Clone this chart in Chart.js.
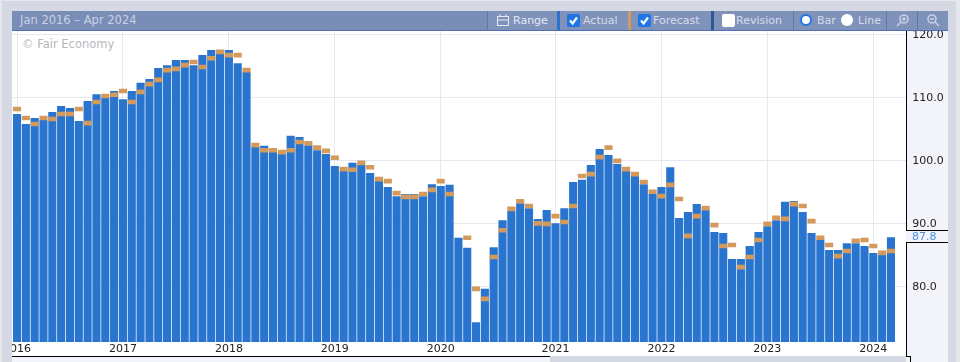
<!DOCTYPE html>
<html><head><meta charset="utf-8">
<script src="https://cdn.jsdelivr.net/npm/chart.js@4"></script>
<style>
html,body{margin:0;padding:0;width:960px;height:362px;overflow:hidden;background:#d5d9e3;font-family:"DejaVu Sans",sans-serif}
#panel{position:absolute;left:12px;top:31px;width:936px;height:331px;background:#f3f4f9}
#plot{position:absolute;left:12px;top:31px;width:894px;height:325px;background:#fff}
#cv{position:absolute;left:12px;top:31px}
#bar{position:absolute;left:12px;top:11px;width:936px;height:19px;background:#7a8db6;border-bottom:1px solid #4f6db0;color:#d6dcea;font-size:11px;line-height:19px}
#bar span{position:absolute;top:0;white-space:nowrap}
#bar svg{position:absolute;top:3px}
.sep{position:absolute;top:0;height:19px;width:1px;background:#5f77a8}
.tb{position:absolute;top:0;height:19px;background:#7f92ba}
.cb{position:absolute;top:3px;width:13px;height:13px;border-radius:2px;background:#1f74e6}
.cb svg{position:absolute!important;left:0;top:0!important}
.cb.off{background:#fff}
.rd{position:absolute;top:3px;width:12px;height:12px;border-radius:50%;background:#fff;box-sizing:border-box}
.rd.on{border:2px solid #1f74e6}
.stripe{position:absolute;top:0;height:19px;width:3px}
.abs{position:absolute}
</style></head><body>
<div class="abs" style="left:0;top:0;width:960px;height:1px;background:#e6e8ee"></div>
<div class="abs" style="left:0;top:0;width:2px;height:362px;background:#e6e8ee"></div>
<div class="abs" style="left:956px;top:0;width:4px;height:362px;background:#e6e8ee"></div>
<div id="panel"></div><div id="plot"></div>
<div class="abs" style="left:12px;top:356px;width:538px;height:1px;background:#000"></div>
<div class="abs" style="left:550px;top:356px;width:356px;height:6px;background:#d5d9e3"></div>
<div class="abs" style="left:906px;top:356px;width:5px;height:1px;background:#000"></div>
<div class="abs" style="left:910px;top:356px;width:1px;height:6px;background:#000"></div>
<div id="bar">
<span style="left:8px;font-size:11.5px;color:#c9d2e4">Jan 2016 – Apr 2024</span>
<div class="tb" style="left:476px;width:460px"></div>
<div class="sep" style="left:475px"></div>
<svg style="left:485px" width="12" height="12" viewBox="0 0 12 12" fill="none" stroke="#e4e8f1"><rect x="0.5" y="2.5" width="11" height="9"/><path d="M0.5 6h11M3 0v3M9 0v3"/></svg>
<span style="left:501px;color:#e4e8f1">Range</span>
<div class="stripe" style="left:545px;background:#2a73cc"></div>
<div class="cb" style="left:555px"><svg width="13" height="13" viewBox="0 0 13 13" fill="none" stroke="#fff" stroke-width="2.2"><path d="M3 6.5l2.6 3L10 3.5"/></svg></div><span style="left:571px">Actual</span>
<div class="stripe" style="left:616px;background:#d49a5c"></div>
<div class="cb" style="left:626px"><svg width="13" height="13" viewBox="0 0 13 13" fill="none" stroke="#fff" stroke-width="2.2"><path d="M3 6.5l2.6 3L10 3.5"/></svg></div><span style="left:641px">Forecast</span>
<div class="stripe" style="left:699px;background:#2f5597"></div>
<div class="cb off" style="left:710px"></div><span style="left:724px">Revision</span>
<div class="sep" style="left:781px"></div>
<div class="rd on" style="left:788px"></div><span style="left:805px">Bar</span>
<div class="rd" style="left:829px"></div><span style="left:846px">Line</span>
<div class="sep" style="left:874px"></div>
<svg style="left:884px" width="14" height="13" viewBox="0 0 14 13" fill="none" stroke="#c5cfe2" stroke-width="1.6"><circle cx="8" cy="5" r="4"/><path d="M5 8L1 12M6 5h4M8 3v4"/></svg>
<div class="sep" style="left:905px"></div>
<svg style="left:914px" width="14" height="13" viewBox="0 0 14 13" fill="none" stroke="#c5cfe2" stroke-width="1.6"><circle cx="6" cy="5" r="4"/><path d="M9 8L13 12M4 5h4"/></svg>
</div>
<div style="position:absolute;left:22px;top:37px;font-size:11.5px;color:#b7b7bb">© Fair Economy</div>
<canvas id="cv" width="936" height="325"></canvas>
<script>
const yearTicks = {0:"2016",12:"2017",24:"2018",36:"2019",48:"2020",61:"2021",73:"2022",85:"2023",97:"2024"};
const categories = Array.from({length:101},(_,i)=>yearTicks[i]||"");
const actual = [107.35,105.76,106.71,106.4,107.67,108.62,108.3,106.24,109.4,110.5,110,111,109.7,111,112.3,112.9,114.65,115.1,115.9,115.9,115.1,116.7,117.5,116.9,117.5,115.4,114,
102.1,102.3,101.3,101,103.9,103.7,102.4,101.6,101,99.1,98.3,99.6,99.25,98,96.7,95.75,94.3,94.65,94.65,94.3,96.2,95.9,96.1,87.7,86.1,74.3,79.6,86.2,90.5,91.95,93.2,92.4,90.7,92.1,90,92.4,96.55,96.9,99.25,101.8,100.85,99.4,98.3,97.5,96.2,94.65,95.75,98.9,90.85,91.8,93.05,92.1,88.6,88.45,84.35,84.35,86.4,88.6,89.55,90.5,93.4,93.55,91.8,88.45,87.35,85.75,85.75,86.85,86.85,86.4,85.3,85,87.8,null];
const forecast = [108.14,106.71,105.76,106.71,106.55,107.35,107.35,108.14,105.9,109.25,110.2,110.4,111,109.25,110.85,112.1,112.75,114.3,114.5,115.1,115.6,114.8,116.2,117.2,116.7,116.7,114.3,
102.4,101.6,101.6,101.3,101.6,102.9,102.7,102,101.5,100.4,98.6,98.5,99.6,98.9,97,96.7,94.8,94.2,94.2,94.65,95.3,96.7,94.65,null,87.7,79.6,78,84.65,88.9,92.3,93.5,92.75,90,89.9,91.15,90.2,92.75,97.5,97.8,100.5,102,99.9,98.6,97.8,96.55,95,94.3,96.1,93.85,88,91.15,92.4,89.7,86.4,86.55,83.05,84.65,87.35,89.9,90.85,90.7,93.05,92.75,90.35,87.7,86.55,84.8,85.6,87.2,87.35,86.4,85.3,85.6,null];
const yTicks = [80,90,100,110,120];
const lastValue = 87.8;
const markerHalf = 0.37;
const forecastBars = forecast.map(v => v==null ? null : [v-markerHalf, v+markerHalf]);

const lastLabel = {
  id:'lastLabel',
  afterDraw(c){
    const ctx=c.ctx, y=c.scales.y, p=Math.round(y.getPixelForValue(lastValue)), ax=c.width-42;
    ctx.save();
    ctx.strokeStyle='#000'; ctx.lineWidth=1;
    ctx.beginPath(); ctx.moveTo(ax+0.5,0); ctx.lineTo(ax+0.5,c.height); ctx.stroke();
    ctx.fillStyle='#f3f4f9'; ctx.fillRect(ax,p-6,42,12);
    ctx.beginPath();
    ctx.moveTo(ax,p-6.5); ctx.lineTo(c.width,p-6.5);
    ctx.moveTo(ax,p+5.5); ctx.lineTo(c.width,p+5.5);
    ctx.stroke();
    ctx.fillStyle='#4a90e2'; ctx.font='11px "DejaVu Sans"'; ctx.textBaseline='middle'; ctx.textAlign='left';
    ctx.fillText(lastValue.toFixed(1),ax+6,p);
    ctx.restore();
  }
};

new Chart(document.getElementById('cv'),{
  type:'bar',
  data:{labels:categories,datasets:[
    {label:'Forecast',data:forecastBars,backgroundColor:'#d49a5c',grouped:false,order:0,barPercentage:0.92,categoryPercentage:1},
    {label:'Actual',data:actual,backgroundColor:'#2874ce',grouped:false,order:1,barPercentage:0.92,categoryPercentage:1}
  ]},
  options:{
    responsive:false,animation:false,
    layout:{padding:{left:0.6,right:0,top:0,bottom:0}},
    plugins:{legend:{display:false},tooltip:{enabled:false}},
    scales:{
      x:{
        grid:{offset:false,lineWidth:1,color:c=>c.tick&&c.tick.label?'#e6e7f0':'rgba(0,0,0,0)',drawTicks:false},
        border:{display:false},
        ticks:{autoSkip:false,maxRotation:0,minRotation:0,padding:1,color:'#222',font:{family:'"DejaVu Sans"',size:11}},
        afterFit(s){s.height=14;s.paddingLeft=0;s.paddingRight=0;}
      },
      y:{
        position:'right',min:71.16,max:120.52,
        afterBuildTicks(s){s.ticks=yTicks.map(v=>({value:v}));},
        grid:{lineWidth:1,color:'#e6e7f0',drawTicks:true,tickLength:2,tickColor:'#e6e7f0'},
        border:{display:false},
        ticks:{padding:6,labelOffset:1,color:'#222',font:{family:'"DejaVu Sans"',size:11},callback:v=>v.toFixed(1)},
        afterFit(s){s.width=43.8;s.paddingTop=0;s.paddingBottom=0;}
      }
    }
  },
  plugins:[lastLabel]
});
</script>
</body></html>
